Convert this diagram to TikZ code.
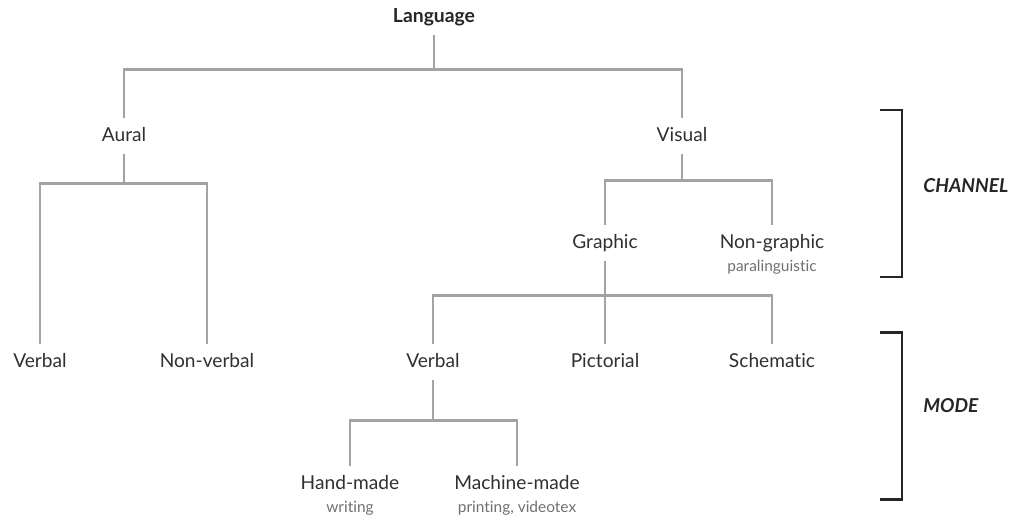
\documentclass[tikz,border=0pt]{standalone}
\usepackage{fontspec}
\setmainfont{Lato}[Ligatures = NoCommon]
\usetikzlibrary{positioning}
\definecolor{linegray}{HTML}{A3A3A3}
\definecolor{inkgray}{HTML}{303030}
\definecolor{notegray}{HTML}{707070}

\begin{document}
\begin{tikzpicture}
\tikzset{
   node distance = 2.38cm,
   term/.style = {inner sep = 0pt, minimum height = 0.72cm, text height = 1.5ex, text depth = 0.3ex, font = \fontsize{10.9}{12}\selectfont, text = inkgray},
   root/.style = {term, font = \fontsize{11}{12}\selectfont\bfseries, text = black!85},
   note/.style = {inner sep = 0pt, text height = 1.5ex, text depth = 0.3ex, font = \fontsize{8.8}{10}\selectfont, text = notegray},
   tag/.style = {anchor = west, inner sep = 0pt, font = \fontsize{10.9}{12}\selectfont\bfseries\itshape, text = black!85},
   branch/.style = {draw = linegray, line width = 1.4pt},
   bracket/.style = {draw = black!85, line width = 1.7pt}
 }
  \useasboundingbox (0,0) rectangle (20.48,-10.44);

  \node [root] (lang) at (8.68,-0.34) {Language};

  \node [term] (aural) [below of = lang, xshift = -6.2cm] {Aural};
  \node [term] (visual) [below of = lang, xshift = 4.96cm] {Visual};

  \node [term] (verbal_a) [below of = aural, xshift = -1.68cm, yshift = -2.14cm] {Verbal};
  \node [term] (nonverbal_a) [right of = verbal_a, xshift = 0.96cm] {Non-verbal};

  \node [term] (graphic) [below of = visual, xshift = -1.54cm, yshift = 0.24cm] {Graphic};
  \node [term] (nongraphic) [right of = graphic, xshift = 0.96cm] {Non-graphic};
  \node [note] (paraling) [below = -0.08cm of nongraphic] {paralinguistic};

  \node [term] (pictorial) [below of = graphic] {Pictorial};
  \node [term] (verbal_b) [left of = pictorial, xshift = -1.06cm] {Verbal};
  \node [term] (schematic) [right of = pictorial, xshift = 0.96cm] {Schematic};

  \node [term] (handmade) [below of = verbal_b, xshift = -1.66cm, yshift = -0.06cm] {Hand-made};
  \node [note] (writing) [below = -0.08cm of handmade] {writing};
  \node [term] (machinemade) [right of = handmade, xshift = 0.96cm] {Machine-made};
  \node [note] (printing) [below = -0.08cm of machinemade] {printing, videotex};

  % tree connectors
  \draw [branch] (lang.south) -- ++(0,-0.68) coordinate (lang_fork);
  \draw [branch] (aural.north) |- (lang_fork) -| (visual.north);

  \draw [branch] (aural.south) -- ++(0,-0.58) coordinate (aural_fork);
  \draw [branch] (verbal_a.north) |- (aural_fork) -| (nonverbal_a.north);

  \draw [branch] (visual.south) -- ++(0,-0.52) coordinate (visual_fork);
  \draw [branch] (graphic.north) |- (visual_fork) -| (nongraphic.north);

  \draw [branch] (graphic.south) -- (pictorial.north);
  \path (graphic.south) ++(0,-0.68) coordinate (graphic_fork);
  \draw [branch] (verbal_b.north) |- (graphic_fork) -| (schematic.north);

  \draw [branch] (verbal_b.south) -- ++(0,-0.80) coordinate (verbal_fork);
  \draw [branch] (handmade.north) |- (verbal_fork) -| (machinemade.north);

  % brackets
  \coordinate (channel_top) at (17.6,-2.2);
  \draw [bracket] (channel_top) -- ++(0.44,0) -- ++(0,-3.34) -- ++(-0.44,0);
  \node [tag] (channel) at (18.46,-3.72) {CHANNEL};

  \coordinate (mode_top) at (17.6,-6.64);
  \draw [bracket] (mode_top) -- ++(0.44,0) -- ++(0,-3.34) -- ++(-0.44,0);
  \node [tag] (mode) at (18.46,-8.12) {MODE};

\end{tikzpicture}
\end{document}
